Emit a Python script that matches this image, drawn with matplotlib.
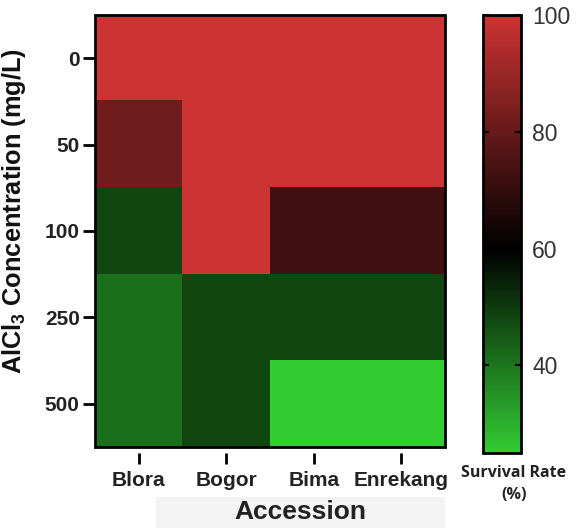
import numpy as np
import matplotlib
matplotlib.use("Agg")
from matplotlib import pyplot as plt
from matplotlib.colors import LinearSegmentedColormap
from matplotlib.patches import Rectangle

plt.rcParams['font.family'] = ['Liberation Sans', 'DejaVu Sans']
plt.rcParams['mathtext.fontset'] = 'custom'
plt.rcParams['mathtext.rm'] = 'Liberation Sans'
plt.rcParams['mathtext.default'] = 'regular'

# accessions (columns) and AlCl3 concentrations (rows)
accessions = ["Blora", "Bogor", "Bima", "Enrekang"]
concentrations = ["0", "50", "100", "250", "500"]

# survival rate (%) per accession, one list per concentration row
row_0 = [100, 100, 100, 100]
row_50 = [82, 100, 100, 100]
row_100 = [48, 100, 73, 73]
row_250 = [41, 48, 48, 48]
row_500 = [41, 48, 25, 25]

cbar_ticks = [40, 60, 80, 100]

survival = np.array([row_0, row_50, row_100, row_250, row_500])

# green -> black -> red
cmap = LinearSegmentedColormap.from_list(
    "gkr", [(0, "#33CC33"), (35 / 75, "#000000"), (1, "#CC3333")])

fig = plt.figure(figsize=(5.76, 5.28), dpi=100)

# light grey strip behind the x label
fig.patches.append(Rectangle((0.271, 0), 0.502, 0.059, transform=fig.transFigure,
                             facecolor="#f3f3f3", edgecolor="none", zorder=0))

ax = fig.add_axes([0.1649, 0.1534, 0.6076, 0.8182])
im = ax.imshow(survival, cmap=cmap, vmin=25, vmax=100, aspect="auto",
               interpolation="nearest")

# border drawn separately so the x ticks can sit a bit below the box
for s in ax.spines.values():
    s.set_visible(False)
ax.spines['bottom'].set_position(('outward', 4))
ax.add_patch(Rectangle((0, 0), 1, 1, transform=ax.transAxes, fill=False,
                       edgecolor="black", linewidth=2, clip_on=False, zorder=5))

ax.set_xticks(range(len(accessions)))
ax.set_xticklabels(accessions, fontsize=15, fontweight="bold", color="#222222")
ax.set_yticks(range(len(concentrations)))
ax.set_yticklabels(concentrations, fontsize=15, fontweight="bold", color="#222222")
ax.tick_params(axis='x', length=8, width=2, pad=5)
ax.tick_params(axis='y', length=9, width=2, pad=2)

fig.text(0.521, 0.030, "Accession", fontsize=19, fontweight="bold",
         color="#222222", ha="center", va="center")
fig.text(0.025, 0.600, "AlCl$_3$ Concentration (mg/L)", fontsize=18.3,
         fontweight="bold", color="#111111", rotation=90, ha="center", va="center")

# colorbar
cax = fig.add_axes([0.8385, 0.142, 0.066, 0.8295])
cb = fig.colorbar(im, cax=cax, ticks=cbar_ticks)
cb.outline.set_linewidth(2)
cb.ax.tick_params(direction="in", left=True, right=True, length=4, width=1.5,
                  labelsize=16.5, labelcolor="#333333", pad=8)

fig.text(0.892, 0.104, "Survival Rate", fontsize=11.5, fontweight="bold",
         family="Open Sans", color="#222222", ha="center", va="center")
fig.text(0.892, 0.062, "(%)", fontsize=11.5, fontweight="bold",
         family="Open Sans", color="#222222", ha="center", va="center")

fig.savefig("out.png", dpi=100)
